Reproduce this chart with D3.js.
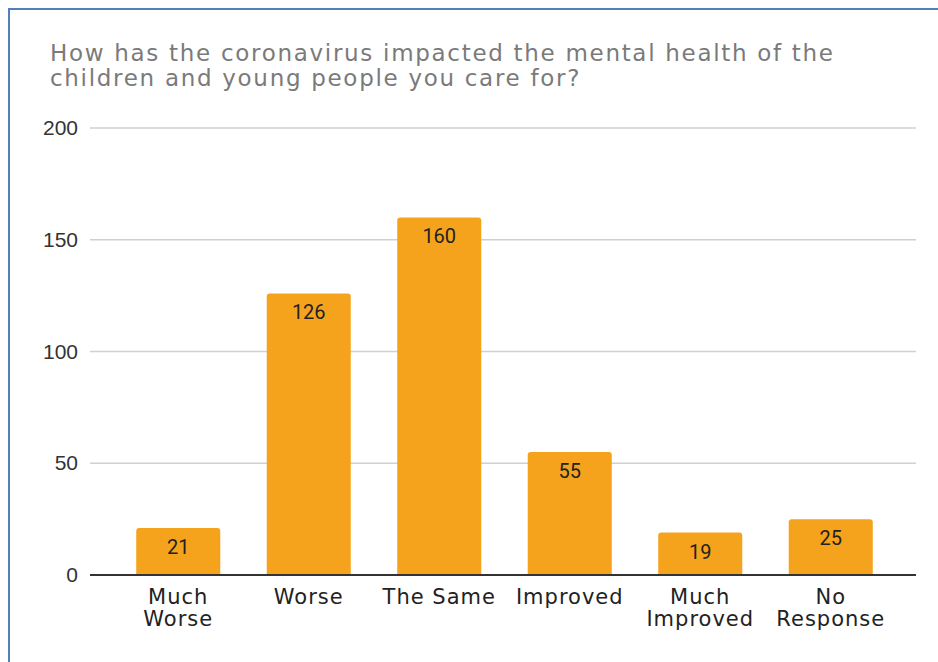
<!DOCTYPE html>
<html><head><meta charset="utf-8">
<script src="https://cdn.jsdelivr.net/npm/d3@7"></script>
<style>html,body{margin:0;padding:0;background:#fff;}</style>
</head><body>
<svg id="c" width="938" height="662"></svg>
<script>
const categories = [["Much","Worse"],["Worse"],["The Same"],["Improved"],["Much","Improved"],["No","Response"]];
const values = [21, 126, 160, 55, 19, 25];
const yTicks = [0, 50, 100, 150, 200];
const titleLines = ["How has the coronavirus impacted the mental health of the", "children and young people you care for?"];

const svg = d3.select("#c");
svg.append("rect").attr("x",9).attr("y",9).attr("width",940).attr("height",660)
  .attr("fill","none").attr("stroke","#4f81bd").attr("stroke-width",2);

svg.append("g").selectAll("text").data(titleLines).join("text")
  .attr("font-family","DejaVu Sans").attr("font-size",23).attr("fill","#7a7a7a")
  .attr("letter-spacing",1.7)
  .attr("x",50).attr("y",(d,i)=>61+i*25).text(d=>d);

const x = d3.scaleBand().domain(d3.range(categories.length)).range([113,896]).paddingInner(0.356).paddingOuter(0.178);
const y = d3.scaleLinear().domain([0,200]).range([575,128]);

const grid = svg.append("g");
grid.selectAll("line").data(yTicks.filter(t=>t>0)).join("line")
  .attr("x1",90).attr("x2",916).attr("y1",d=>y(d)).attr("y2",d=>y(d))
  .attr("stroke","#d0d0d0").attr("stroke-width",1.5);

const yAxis = svg.append("g").attr("transform","translate(90,0)")
  .call(d3.axisLeft(y).tickValues(yTicks).tickSize(0).tickPadding(12));
yAxis.select(".domain").remove();
yAxis.selectAll("text").attr("font-family","Liberation Sans, Arial").attr("font-size",21).attr("fill","#333");

const r = 3;
svg.append("g").selectAll("path").data(values).join("path")
  .attr("fill","#f5a31c")
  .attr("d",(d,i)=>{
    const x0 = x(i), w = x.bandwidth(), y0 = y(d), yb = y(0);
    return `M${x0},${yb}V${y0+r}Q${x0},${y0} ${x0+r},${y0}H${x0+w-r}Q${x0+w},${y0} ${x0+w},${y0+r}V${yb}Z`;
  });

svg.append("g").selectAll("text").data(values).join("text")
  .attr("x",(d,i)=>x(i)+x.bandwidth()/2).attr("y",d=>y(d)+26)
  .attr("text-anchor","middle").attr("font-family","Roboto").attr("font-size",20).attr("fill","#222")
  .text(d=>d);

svg.append("line").attr("x1",90).attr("x2",916).attr("y1",y(0)).attr("y2",y(0))
  .attr("stroke","#333").attr("stroke-width",2);

const xAxis = svg.append("g").attr("transform",`translate(0,${y(0)})`)
  .call(d3.axisBottom(x).tickSize(0).tickFormat(""));
xAxis.select(".domain").remove();
xAxis.selectAll(".tick").each(function(d){
  const t = d3.select(this).append("text").attr("text-anchor","middle")
    .attr("font-family","DejaVu Sans").attr("font-size",21).attr("fill","#222").attr("letter-spacing",1);
  t.selectAll("tspan").data(categories[d]).join("tspan").attr("x",0).attr("y",(s,i)=>29+i*22).text(s=>s);
});
</script>
</body></html>
